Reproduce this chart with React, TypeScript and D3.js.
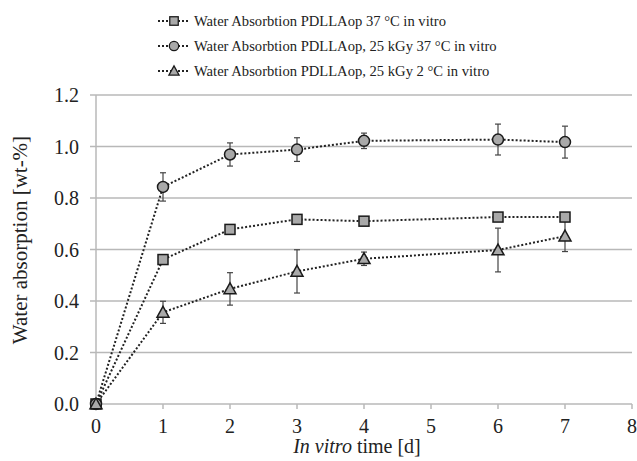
import React from "react";
import * as d3 from "d3";

const days = [0, 1, 2, 3, 4, 6, 7];
const squareVals = [0, 0.561, 0.678, 0.717, 0.71, 0.726, 0.726];
const squareErr = [0, 0.01, 0.01, 0.01, 0.01, 0.01, 0.01];
const circleVals = [0, 0.843, 0.969, 0.988, 1.022, 1.027, 1.017];
const circleErr = [0, 0.055, 0.045, 0.046, 0.03, 0.06, 0.062];
const triVals = [0, 0.356, 0.447, 0.515, 0.564, 0.598, 0.652];
const triErr = [0, 0.043, 0.063, 0.084, 0.026, 0.085, 0.06];
const legendLabels = [
  "Water Absorbtion PDLLAop 37 °C in vitro",
  "Water Absorbtion PDLLAop, 25 kGy 37 °C in vitro",
  "Water Absorbtion PDLLAop, 25 kGy 2 °C in vitro",
];
const xTicks = [0, 1, 2, 3, 4, 5, 6, 7, 8];
const yTicks = [0, 0.2, 0.4, 0.6, 0.8, 1.0, 1.2];

const W = 637, H = 461;
const left = 96, right = 632, top = 95, bottom = 404;
const font = "'Liberation Serif', 'Times New Roman', serif";

function Marker({ type, x, y }: { type: string; x: number; y: number }) {
  const fill = "#a9a9a9", stroke = "#1a1a1a";
  if (type === "square")
    return <rect x={x - 5} y={y - 5} width={10} height={10} fill={fill} stroke={stroke} strokeWidth={1.5} />;
  if (type === "circle")
    return <circle cx={x} cy={y} r={5.5} fill={fill} stroke={stroke} strokeWidth={1.5} />;
  const s = 6;
  return (
    <path
      d={`M${x},${y - s}L${x + s},${y + s * 0.8}L${x - s},${y + s * 0.8}Z`}
      fill={fill}
      stroke={stroke}
      strokeWidth={1.5}
    />
  );
}

export default function App() {
  const x = d3.scaleLinear().domain([0, 8]).range([left, right]);
  const y = d3.scaleLinear().domain([0, 1.2]).range([bottom, top]);
  const line = d3
    .line<number>()
    .x((_, i) => x(days[i]))
    .y((v) => y(v));

  const series = [
    { type: "square", vals: squareVals, err: squareErr },
    { type: "circle", vals: circleVals, err: circleErr },
    { type: "triangle", vals: triVals, err: triErr },
  ];

  return (
    <svg width={W} height={H} style={{ position: "absolute", left: 0, top: 0, background: "#fff" }} fontFamily={font}>
      {yTicks.map((t) => (
        <g key={t}>
          <line x1={left - 6} x2={right} y1={y(t)} y2={y(t)} stroke="#b8b8b8" strokeWidth={1.5} />
          <text x={79} y={y(t)} dy="0.35em" textAnchor="end" fontSize={20} fill="#222">
            {t.toFixed(1)}
          </text>
        </g>
      ))}
      <line x1={left} x2={left} y1={top} y2={bottom} stroke="#b8b8b8" strokeWidth={1.5} />
      {xTicks.map((t) => (
        <g key={t}>
          <line x1={x(t)} x2={x(t)} y1={bottom} y2={bottom + 5} stroke="#b8b8b8" strokeWidth={1.5} />
          <text x={x(t)} y={433} textAnchor="middle" fontSize={20} fill="#222">
            {t}
          </text>
        </g>
      ))}
      <text
        transform={`translate(27,${240}) rotate(-90)`}
        textAnchor="middle"
        fontSize={21}
        fill="#222"
      >
        Water absorption [wt-%]
      </text>
      <text x={357} y={453} textAnchor="middle" fontSize={20} fill="#222">
        <tspan fontStyle="italic">In vitro</tspan> time [d]
      </text>

      {series.map((s) => (
        <path
          key={s.type}
          d={line(s.vals) || ""}
          fill="none"
          stroke="#222"
          strokeWidth={2}
          strokeDasharray="2,2"
        />
      ))}
      {series.map((s) =>
        s.vals.map((v, i) =>
          s.err[i] > 0 ? (
            <g key={s.type + i} stroke="#444" strokeWidth={1.2}>
              <line x1={x(days[i])} x2={x(days[i])} y1={y(v - s.err[i])} y2={y(v + s.err[i])} />
              <line x1={x(days[i]) - 3} x2={x(days[i]) + 3} y1={y(v - s.err[i])} y2={y(v - s.err[i])} />
              <line x1={x(days[i]) - 3} x2={x(days[i]) + 3} y1={y(v + s.err[i])} y2={y(v + s.err[i])} />
            </g>
          ) : null
        )
      )}
      {series.map((s) =>
        s.vals.map((v, i) => <Marker key={s.type + "m" + i} type={s.type} x={x(days[i])} y={y(v)} />)
      )}

      {series.map((s, i) => {
        const ly = 21 + i * 25;
        return (
          <g key={"lg" + i}>
            <line x1={158} x2={190} y1={ly} y2={ly} stroke="#222" strokeWidth={2} strokeDasharray="2,2" />
            <g transform={`translate(174,${ly}) scale(0.85)`}>
              <Marker type={s.type} x={0} y={0} />
            </g>
            <text x={194} y={ly} dy="0.35em" fontSize={14.6} fill="#222">
              {legendLabels[i]}
            </text>
          </g>
        );
      })}
    </svg>
  );
}
